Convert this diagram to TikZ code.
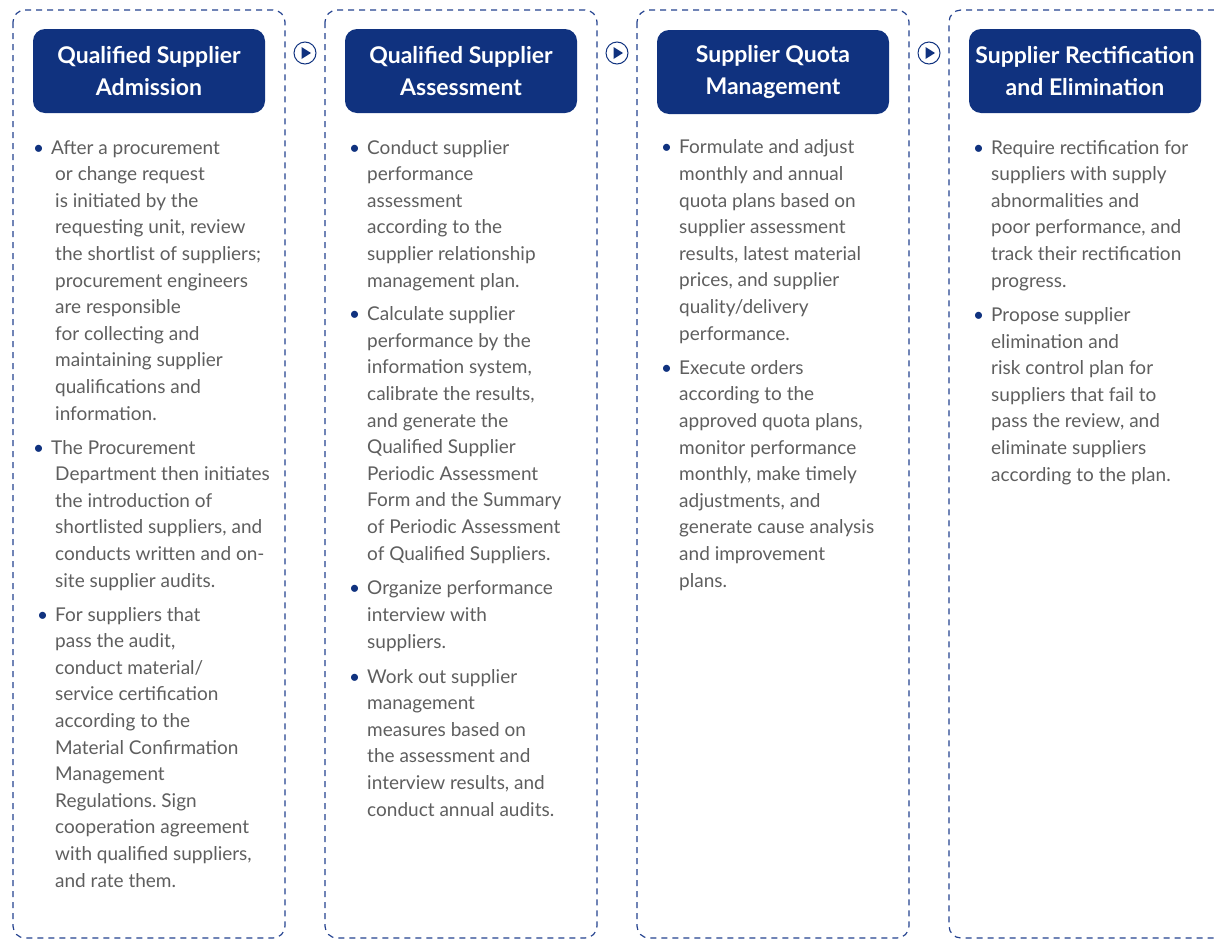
\documentclass[tikz,border=0pt]{standalone}
\usepackage{fontspec}
\setmainfont{Lato}
\frenchspacing
\definecolor{navy}{HTML}{10327F}
\definecolor{dashblue}{HTML}{24428F}
\definecolor{bodygray}{HTML}{5E5E5E}
\newcommand{\blt}{\llap{\textcolor{navy}{\textbullet}\hspace{7pt}}}

\begin{document}
\begin{tikzpicture}[
  x=1pt, y=-1pt,
  frame_box/.style={draw=dashblue, dash pattern=on 6pt off 5pt, line width=1.2pt, rounded corners=12pt},
  title_box/.style={rectangle, rounded corners=12pt, fill=navy, text=white, minimum width=232pt, minimum height=84pt, inner sep=0pt, align=center, font=\bfseries\fontsize{23}{32}\selectfont},
  item_text/.style={anchor=base west, inner sep=0pt, align=left, text=bodygray, font=\fontsize{19}{26.6}\selectfont},
  next_icon/.style={circle, draw=navy, line width=1pt, minimum size=22pt, inner sep=0pt},
]
\useasboundingbox (0,0) rectangle (1214,940);

% dashed columns, the last one is open to the right edge
\foreach \i in {0,...,2}
  \draw[frame_box] (13+312*\i,10) rectangle (285+312*\i,938);
\draw[frame_box] (1214,10) -- (949,10) -- (949,938) -- (1214,938);

% titles
\draw (149,71) node (T1) [title_box] {Qualified Supplier\\Admission};
\draw (461,71) node (T2) [title_box] {Qualified Supplier\\Assessment};
\draw (773,72) node (T3) [title_box] {Supplier Quota\\Management};
\draw (1085,71) node (T4) [title_box] {Supplier Rectification\\and Elimination};

% arrows between steps
\foreach \x [count=\n] in {305,617,929} {
  \node (N\n) [next_icon] at (\x,53) {};
  \fill[navy] (N\n.center) ++(-3.5,-6) -- ++(0,12) -- ++(9.5,-6) -- cycle;
}

% items sit on the baseline of their last line
% column 1
\draw (55,420) node (A1) [item_text] {\hspace*{-4pt}\blt After a procurement\\or change request\\is initiated by the\\requesting unit, review\\the shortlist of suppliers;\\procurement engineers\\are responsible\\for collecting and\\maintaining supplier\\qualifications and\\information.};
\draw (55,587) node (A2) [item_text] {\hspace*{-4pt}\blt The Procurement\\Department then initiates\\the introduction of\\shortlisted suppliers, and\\conducts written and on-\\site supplier audits.};
\draw (55,887) node (A3) [item_text] {\blt For suppliers that\\pass the audit,\\conduct material/\\service certification\\according to the\\Material Confirmation\\Management\\Regulations. Sign\\cooperation agreement\\with qualified suppliers,\\and rate them.};

% column 2
\draw (367,287) node (B1) [item_text] {\blt Conduct supplier\\performance\\assessment\\according to the\\supplier relationship\\management plan.};
\draw (367,560) node (B2) [item_text] {\blt Calculate supplier\\performance by the\\information system,\\calibrate the results,\\and generate the\\Qualified Supplier\\Periodic Assessment\\Form and the Summary\\of Periodic Assessment\\of Qualified Suppliers.};
\draw (367,648) node (B3) [item_text] {\blt Organize performance\\interview with\\suppliers.};
\draw (367,816) node (B4) [item_text] {\blt Work out supplier\\management\\measures based on\\the assessment and\\interview results, and\\conduct annual audits.};

% column 3
\draw (679,340) node (C1) [item_text] {\blt Formulate and adjust\\monthly and annual\\quota plans based on\\supplier assessment\\results, latest material\\prices, and supplier\\quality/delivery\\performance.};
\draw (679,587) node (C2) [item_text] {\blt Execute orders\\according to the\\approved quota plans,\\monitor performance\\monthly, make timely\\adjustments, and\\generate cause analysis\\and improvement\\plans.};

% column 4
\draw (991,287) node (D1) [item_text] {\blt Require rectification for\\suppliers with supply\\abnormalities and\\poor performance, and\\track their rectification\\progress.};
\draw (991,481) node (D2) [item_text] {\blt Propose supplier\\elimination and\\risk control plan for\\suppliers that fail to\\pass the review, and\\eliminate suppliers\\according to the plan.};
\end{tikzpicture}
\end{document}
